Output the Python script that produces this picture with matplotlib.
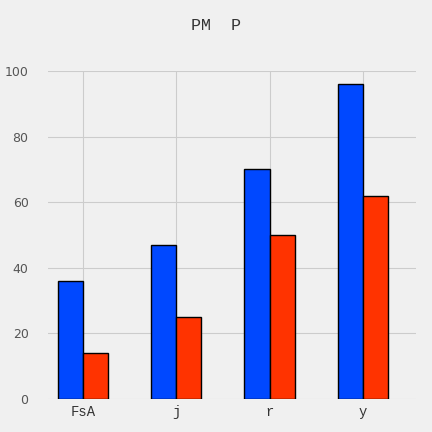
import matplotlib
matplotlib.use("Agg")
import matplotlib.pyplot as plt
import numpy as np

categories = ["FsA", "j", "r", "y"]
series_blue = [36, 47, 70, 96]
series_red = [14, 25, 50, 62]

bg = "#f0f0f0"
fig = plt.figure(figsize=(4.32, 4.32), dpi=100, facecolor=bg)
ax = fig.add_axes([48 / 432, 1 - 399 / 432, 368 / 432, 328 / 432], facecolor=bg)

x = np.arange(len(categories))
w = 0.27
ax.bar(x - w / 2, series_blue, w, color="#0048ff", edgecolor="black", linewidth=1, zorder=3)
ax.bar(x + w / 2, series_red, w, color="#ff3300", edgecolor="black", linewidth=1, zorder=3)

ax.set_xlim(-0.375, 3.57)
ax.set_ylim(0, 99.4)
ax.set_yticks([0, 20, 40, 60, 80, 100])
ax.set_xticks(x)
ax.set_xticklabels(categories, family="Liberation Mono", fontsize=10, color="#333333")
ax.tick_params(axis="y", labelsize=9, colors="#555555", length=0, pad=14)
ax.tick_params(axis="x", length=0, pad=4)
ax.grid(True, color="#cccccc", linewidth=0.8, zorder=0)
for s in ax.spines.values():
    s.set_visible(False)

fig.text(0.5, 1 - 25 / 432, "PM  P", ha="center", va="center",
         family="Liberation Mono", fontsize=12, color="#333333")

fig.savefig("out.png", dpi=100, facecolor=bg)
